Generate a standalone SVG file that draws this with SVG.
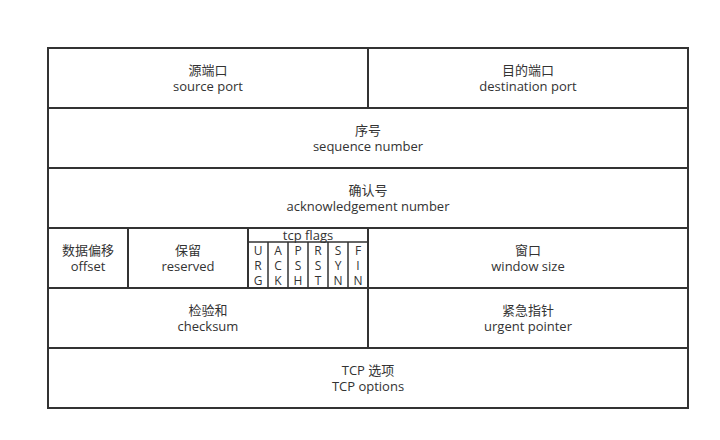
<svg xmlns="http://www.w3.org/2000/svg" width="720" height="440" viewBox="0 0 720 440">
<style>
.ln{stroke:#333;stroke-width:2;fill:none}
.tn{stroke:#333;stroke-width:1.5;fill:none}
text{font-family:"Open Sans","Noto Sans CJK SC",sans-serif;font-size:13px;fill:#333;text-anchor:middle}
.f{font-size:12px}
</style>
<rect width="720" height="440" fill="#fff"/>
<g id="connectors">
<rect class="ln" x="48" y="48" width="640" height="360"/>
<path class="ln" d="M48 108H688M48 168H688M48 228H688M48 288H688M48 348H688"/>
<path class="ln" d="M368 48V108M368 228V348M128 228V288M248 228V288"/>
<path class="tn" d="M248 242H368M268 242V288M288 242V288M308 242V288M328 242V288M348 242V288"/>
</g>
<g id="src"><text x="208" y="75">源端口</text><text x="208" y="91">source port</text></g>
<g id="dst"><text x="528" y="75">目的端口</text><text x="528" y="91">destination port</text></g>
<g id="seq"><text x="368" y="135">序号</text><text x="368" y="151">sequence number</text></g>
<g id="ack"><text x="368" y="195">确认号</text><text x="368" y="211">acknowledgement number</text></g>
<g id="off"><text x="88" y="255">数据偏移</text><text x="88" y="271">offset</text></g>
<g id="res"><text x="188" y="255">保留</text><text x="188" y="271">reserved</text></g>
<g id="flags"><text x="308" y="240">tcp flags</text>
<text class="f" x="258" y="255">U</text><text class="f" x="258" y="270">R</text><text class="f" x="258" y="285">G</text>
<text class="f" x="278" y="255">A</text><text class="f" x="278" y="270">C</text><text class="f" x="278" y="285">K</text>
<text class="f" x="298" y="255">P</text><text class="f" x="298" y="270">S</text><text class="f" x="298" y="285">H</text>
<text class="f" x="318" y="255">R</text><text class="f" x="318" y="270">S</text><text class="f" x="318" y="285">T</text>
<text class="f" x="338" y="255">S</text><text class="f" x="338" y="270">Y</text><text class="f" x="338" y="285">N</text>
<text class="f" x="358" y="255">F</text><text class="f" x="358" y="270">I</text><text class="f" x="358" y="285">N</text>
</g>
<g id="win"><text x="528" y="255">窗口</text><text x="528" y="271">window size</text></g>
<g id="chk"><text x="208" y="315">检验和</text><text x="208" y="331">checksum</text></g>
<g id="urg"><text x="528" y="315">紧急指针</text><text x="528" y="331">urgent pointer</text></g>
<g id="opt"><text x="368" y="375">TCP 选项</text><text x="368" y="391">TCP options</text></g>
</svg>
